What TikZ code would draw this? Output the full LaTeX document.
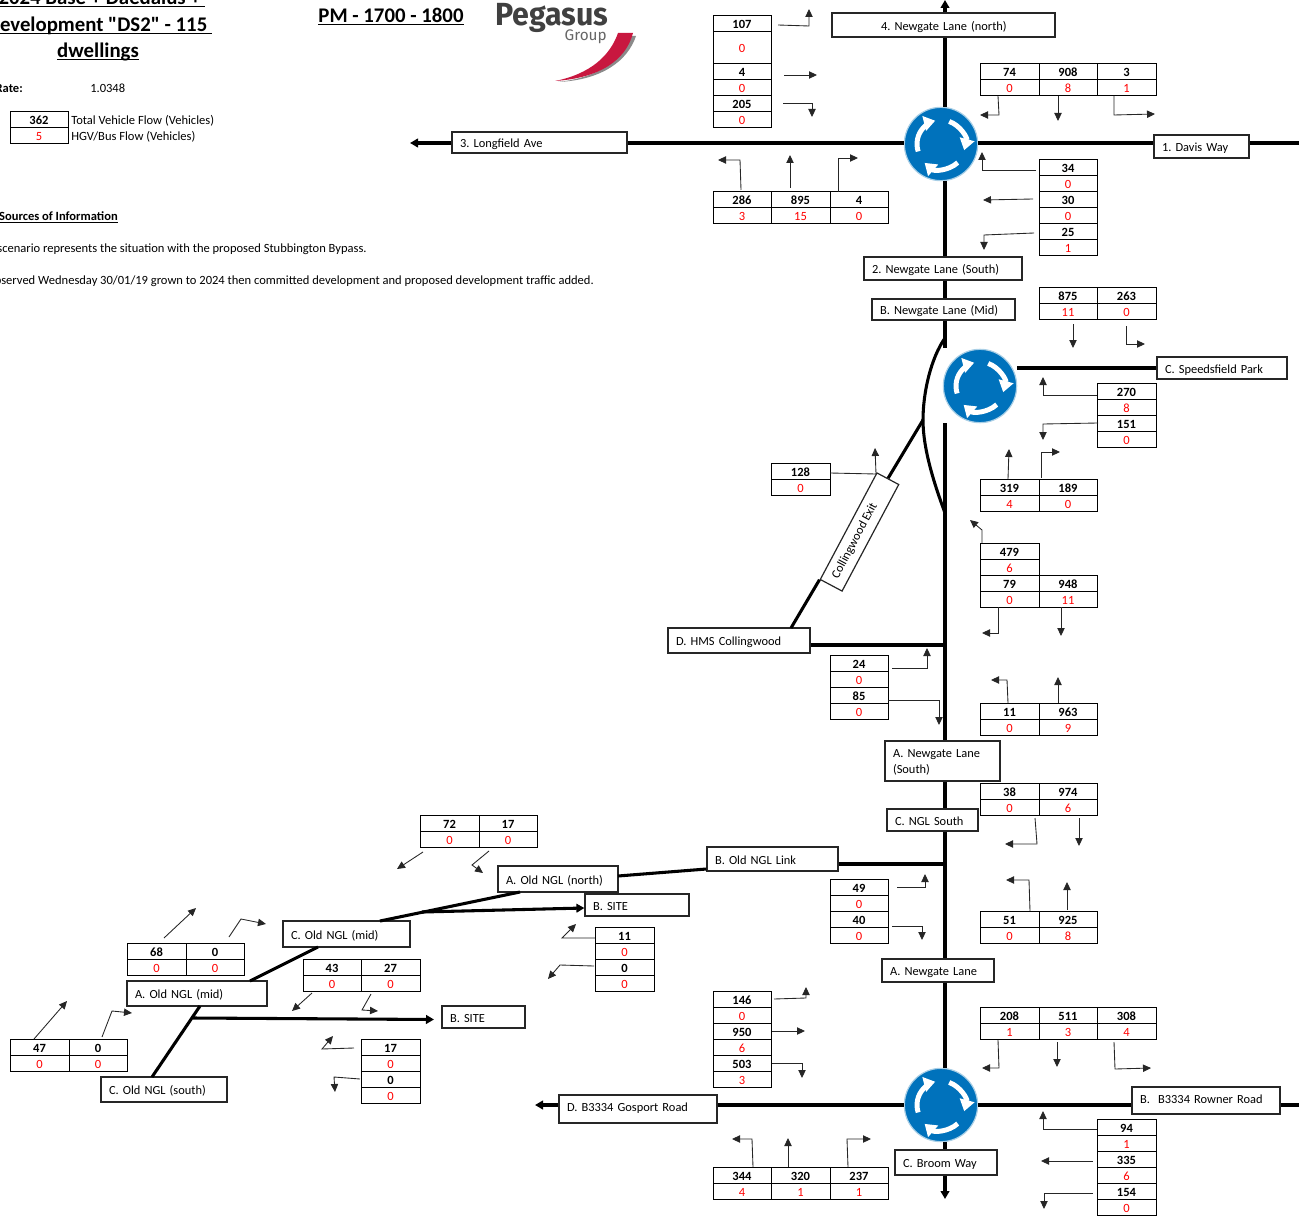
\documentclass[tikz,border=0pt]{standalone}
\usepackage{graphicx}
\usepackage{fontspec}
\setmainfont{Carlito}
\newfontfamily\rawcarlito{Carlito}
\newfontfamily\logofont{Fira Sans}
\usetikzlibrary{arrows.meta,calc}
\AtBeginDocument{\frenchspacing}
\definecolor{signblue}{HTML}{0072BC}
\definecolor{signrim}{HTML}{A9CFE6}
\definecolor{logored}{HTML}{C8173F}
\definecolor{logogrey}{HTML}{8A8A8A}
\definecolor{flowred}{HTML}{FF0000}
\newsavebox\tulbox
\newcommand\tul[1]{\sbox\tulbox{#1}\rlap{\rule[-1.9pt]{\wd\tulbox}{0.9pt}}\usebox\tulbox}
\tikzset{
  cellbox/.style={draw=black,line width=0.7pt,fill=white,inner sep=0pt,text height=8.2pt,text depth=0pt,font=\fontsize{9.4}{11}\selectfont},
  valcell/.style={cellbox,font=\fontsize{9.4}{11}\selectfont\bfseries},
  hgvcell/.style={cellbox,text=flowred},
  labbox/.style={draw=black!85,line width=0.9pt,fill=white,font=\fontsize{9.3}{12}\selectfont,inner ysep=0pt,anchor=center},
  road/.style={draw=black,line width=2.3pt},
  roadarr/.style={road,-{Triangle[length=6pt,width=6.5pt]}},
  flow/.style={draw=black!85,line width=0.65pt,-{Triangle[length=6pt,width=5.5pt]}},
  note/.style={inner sep=0pt,font=\fontsize{9.4}{11}\selectfont},
  noteb/.style={note,font=\fontsize{9.4}{11}\selectfont\bfseries},
  titletext/.style={inner sep=0pt,anchor=base,font=\fontsize{15.6}{18}\selectfont\bfseries},
  sign/.style={circle,fill=signblue,draw=signrim,line width=0.9pt,minimum size=55pt,inner sep=0pt},
  signarr/.style={draw=white,line width=3.7pt,-{Triangle[length=8.5pt,width=11pt]}}
}
% single cell
\newcommand\fcell[7]{%
  \pgfmathsetmacro\fcw{((#4)-(#2))*0.75}\pgfmathsetmacro\fch{((#5)-(#3))*0.75}%
  \node[#7,minimum width=\fcw pt,minimum height=\fch pt] (#1) at ({((#2)+(#4))/2},{((#3)+(#5))/2}) {#6};}
% value over hgv
\newcommand\vt[6]{%
  \fcell{#1v}{#2}{#4}{#3}{#4+16}{#5}{valcell}%
  \fcell{#1h}{#2}{#4+16}{#3}{#4+32}{#6}{hgvcell}}
% label box: [sep] name x1 y1 x2 y2 text
\newcommand\lab[7][8]{%
  \pgfmathsetmacro\fcw{(#5-#3)*0.75}\pgfmathsetmacro\fch{(#6-#4)*0.75}%
  \pgfmathsetmacro\ftw{(#5-#3-2*#1)*0.75}\pgfmathsetmacro\fsp{#1*0.75}%
  \node[labbox,inner xsep=\fsp pt,text width=\ftw pt,align=left,minimum width=\fcw pt,minimum height=\fch pt] (#2) at ({(#3+#5)/2},{(#4+#6)/2}) {\rule[-2.5pt]{0pt}{13pt}#7};}
\newcommand\flowa[3]{\coordinate (#1s) at #2; \coordinate (#1e) at #3; \draw[flow] (#1s) -- (#1e);}
\newcommand\flowb[4]{\coordinate (#1s) at #2; \coordinate (#1m) at #3; \coordinate (#1e) at #4; \draw[flow] (#1s) -- (#1m) -- (#1e);}
\newcommand\rabout[3]{%
  \node[sign] (#1) at (#2,#3) {};
  \begin{scope}[shift={(#2,#3)},x=0.75pt,y=0.75pt]
    \draw[signarr] (198:24) arc[start angle=198,end angle=104,radius=18pt];
    \draw[signarr] (70:24) arc[start angle=70,end angle=-15,radius=18pt];
    \draw[signarr] (-48:25) arc[start angle=-48,end angle=-131,radius=18.75pt];
  \end{scope}}
\begin{document}
\begin{tikzpicture}[x=0.75pt,y=-0.75pt]
\useasboundingbox (0,0) rectangle (1299,1216);
\clip (0,0) rectangle (1299,1216);
% titles
\node[titletext] (title1) at (102,4.3) {\tul{2024 Base + Daedalus +\ }};
\node[titletext] (title2) at (99.5,31.3) {\tul{Development {\rawcarlito "DS2"} - 115\ }};
\node[titletext] (title3) at (98,57.3) {\tul{dwellings}};
\node[titletext] (pm) at (391,22.5) {\tul{PM - 1700 - 1800}};
% logo
\node[inner sep=0pt,anchor=west,text=black!75,font=\logofont\fontsize{24}{26}\selectfont\bfseries] (lg1) at (495,18) {\scalebox{0.95}[1]{Pegasus}};
\node[inner sep=0pt,anchor=east,text=black!60,font=\logofont\fontsize{11.5}{13}\selectfont] (lg2) at (607,36.5) {Group};
\fill[logogrey] (558,82) .. controls (603,80) and (628,60) .. (636,36) -- (632,36) .. controls (622,62) and (595,78) .. (558,82) -- cycle;
\fill[logored] (555,81) .. controls (600,78) and (626,60) .. (633,33) -- (618,33) .. controls (610,56) and (590,74) .. (555,81) -- cycle;
% notes
\node[noteb,anchor=east] (rate) at (23,88.5) {Rate:};
\node[note,anchor=west] (ratev) at (90,88.5) {1.0348};
\vt{leg}{10}{68}{111}{362}{5}
\node[note,anchor=west] (legv) at (71,121) {Total Vehicle Flow (Vehicles)};
\node[note,anchor=west] (legh) at (71,137) {HGV/Bus Flow (Vehicles)};
\node[noteb,anchor=east] (src) at (118,217.5) {\underline{Sources of Information}};
\node[note,anchor=east] (s1) at (367,249.5) {This scenario represents the situation with the proposed Stubbington Bypass.};
\node[note,anchor=east] (s2) at (594,281.5) {Observed Wednesday 30/01/19 grown to 2024 then committed development and proposed development traffic added.};
% labels
\lab[49]{n4}{832}{13}{1055}{37}{\mbox{4. Newgate Lane (north)}}
\lab{n1}{1154}{135}{1249}{158}{1. Davis Way}
\lab{n3}{452}{132}{627}{153}{3. Longfield Ave}
\lab{n2}{864}{257}{1022}{280}{2. Newgate Lane (South)}
\lab{nbm}{872}{299}{1015}{320}{B. Newgate Lane (Mid)}
\lab{ncs}{1157}{357}{1287}{379}{C. Speedsfield Park}
\lab{nhms}{668}{628}{810}{653}{D. HMS Collingwood}
\lab{nas}{885}{741}{1000}{781}{A. Newgate Lane\\(South)\rule[-4pt]{0pt}{0pt}}
\lab{ncn}{887}{809}{978}{831}{C. NGL South}
\lab{nol}{707}{847}{838}{871}{B. Old NGL Link}
\lab{nan}{498}{866}{618}{892}{A. Old NGL (north)}
\lab{nsa}{585}{894}{689}{916}{B. SITE}
\lab{ncm}{283}{921}{410}{947}{C. Old NGL (mid)}
\lab{nam}{127}{981}{267}{1006}{A. Old NGL (mid)}
\lab{nsb}{442}{1006}{525}{1028}{B. SITE}
\lab{ncos}{101}{1077}{227}{1102}{C. Old NGL (south)}
\lab{nal}{882}{959}{994}{982}{A. Newgate Lane}
\lab{nd}{559}{1095}{717}{1123}{\raisebox{2.25pt}{D. B3334 Gosport Road}}
\lab{nb}{1132}{1087}{1280}{1114}{\raisebox{1.75pt}{B.\ \ B3334 Rowner Road}}
\lab{nc}{895}{1150}{997}{1175}{C. Broom Way}
\node[labbox,rotate=62,minimum width=90.5pt,minimum height=18.5pt,inner xsep=0pt] (coll) at (859.5,532) {Collingwood Exit\hspace{15pt}\mbox{}};
% roundabouts
\rabout{ra}{941}{144}
\rabout{rb}{980}{386}
\rabout{rc}{941}{1105}
% road coordinates
\coordinate (vx) at (945,0);
\coordinate (hxa) at (0,143);
\coordinate (hend) at (1299,143);
\coordinate (hzl) at (410,143);
\coordinate (bzr) at (1299,1105);
\coordinate (bzl) at (535,1105);
\coordinate (vb1) at (945,348);
\coordinate (vb2) at (945,423);
\coordinate (cur1) at (945,338);
\coordinate (cj) at (923,420);
\coordinate (cur2) at (945,513);
\coordinate (hj) at (791,628);
\coordinate (vend) at (945,1199);
\coordinate (hmsr) at (945,645);
\coordinate (ola) at (945,864);
\coordinate (olb) at (705,869);
\coordinate (olc) at (618,876);
\coordinate (old) at (520,892);
\coordinate (ole) at (380,921);
\coordinate (olj) at (422,912);
\coordinate (olm) at (585,908);
\coordinate (olf) at (318,947);
\coordinate (olg) at (250,981);
\coordinate (olh) at (200,1006);
\coordinate (oli) at (152,1077);
\coordinate (olk) at (193,1018);
\coordinate (olt) at (434,1019.5);
% main vertical
\draw[roadarr] (vx |- n4.north) -- (vx);
\draw[road] (vx |- n4.south) -- (vx |- ra.north);
\draw[road] (vx |- ra.south) -- (vx |- n2.north);
\draw[road] (vx |- n2.south) -- (vx |- nbm.north);
\draw[road] (vx |- nbm.south) -- (vb1);
\draw[road] (vb2) -- (vx |- nas.north);
\draw[road] (vx |- nas.south) -- (vx |- ncn.north);
\draw[road] (vx |- ncn.south) -- (vx |- nal.north);
\draw[road] (vx |- nal.south) -- (vx |- rc.north);
\draw[road] (vx |- rc.south) -- (vx |- nc.north);
\draw[roadarr] (vx |- nc.south) -- (vend);
% top horizontal
\draw[roadarr] (n3.west |- hxa) -- (hzl);
\draw[road] (n3.east |- hxa) -- (ra.west |- hxa);
\draw[road] (ra.east |- hxa) -- (n1.west |- hxa);
\draw[road] (n1.east |- hxa) -- (hend);
% middle roundabout
\draw[road] (rb.east |- ncs.west) -- (ncs.west);
\draw[road] (cur1) .. controls (931,358) and (923,392) .. (cj) .. controls (923,450) and (935,486) .. (cur2);
\draw[road] (cj) -- (coll.east);
\draw[road] (coll.north west) -- (hj);
% side roads
\draw[road] (nhms.east |- hmsr) -- (hmsr);
\draw[road] (nol.east |- ola) -- (ola);
% bottom horizontal
\draw[roadarr] (nd.west |- bzl) -- (bzl);
\draw[road] (nd.east |- bzl) -- (rc.west);
\draw[road] (rc.east) -- (nb.west |- bzr);
\draw[road] (nb.east |- bzr) -- (bzr);
% old NGL
\draw[road] (nol.west |- olb) -- (olc);
\draw[road] (old) -- (ole);
\draw[roadarr] (olj) -- (nsa.west |- olm);
\draw[road] (olf) -- (olg);
\draw[road] (olh) -- (oli);
\draw[roadarr] (olk) -- (olt);
% tables
\fcell{t107v}{713}{15}{771}{31}{107}{valcell}
\fcell{t107h}{713}{31}{771}{63}{0}{hgvcell}
\vt{t4}{713}{771}{63}{4}{0}
\vt{t205}{713}{771}{95}{205}{0}
\vt{t74}{980}{1039}{63}{74}{0}
\vt{t908}{1039}{1097}{63}{908}{8}
\vt{t3}{1097}{1156}{63}{3}{1}
\vt{t286}{713}{771}{191}{286}{3}
\vt{t895}{771}{830}{191}{895}{15}
\vt{t4b}{830}{888}{191}{4}{0}
\vt{t34}{1039}{1097}{159}{34}{0}
\vt{t30}{1039}{1097}{191}{30}{0}
\vt{t25}{1039}{1097}{223}{25}{1}
\vt{t875}{1039}{1097}{287}{875}{11}
\vt{t263}{1097}{1156}{287}{263}{0}
\vt{t270}{1097}{1156}{383}{270}{8}
\vt{t151}{1097}{1156}{415}{151}{0}
\vt{t319}{980}{1039}{479}{319}{4}
\vt{t189}{1039}{1097}{479}{189}{0}
\vt{t128}{771}{830}{463}{128}{0}
\vt{t479}{980}{1039}{543}{479}{6}
\vt{t79}{980}{1039}{575}{79}{0}
\vt{t948}{1039}{1097}{575}{948}{11}
\vt{t24}{830}{888}{655}{24}{0}
\vt{t85}{830}{888}{687}{85}{0}
\vt{t11}{980}{1039}{703}{11}{0}
\vt{t963}{1039}{1097}{703}{963}{9}
\vt{t38}{980}{1039}{783}{38}{0}
\vt{t974}{1039}{1097}{783}{974}{6}
\vt{t49}{830}{888}{879}{49}{0}
\vt{t40}{830}{888}{911}{40}{0}
\vt{t51}{980}{1039}{911}{51}{0}
\vt{t925}{1039}{1097}{911}{925}{8}
\vt{t72}{420}{479}{815}{72}{0}
\vt{t17}{479}{537}{815}{17}{0}
\vt{t11b}{595}{654}{927}{11}{0}
\vt{t0b}{595}{654}{959}{0}{0}
\vt{t68}{127}{186}{943}{68}{0}
\vt{t0c}{186}{244}{943}{0}{0}
\vt{t43}{303}{361}{959}{43}{0}
\vt{t27}{361}{420}{959}{27}{0}
\vt{t47}{10}{69}{1039}{47}{0}
\vt{t0d}{69}{127}{1039}{0}{0}
\vt{t17b}{361}{420}{1039}{17}{0}
\vt{t0e}{361}{420}{1071}{0}{0}
\vt{t146}{713}{771}{991}{146}{0}
\vt{t950}{713}{771}{1023}{950}{6}
\vt{t503}{713}{771}{1055}{503}{3}
\vt{t208}{980}{1039}{1007}{208}{1}
\vt{t511}{1039}{1097}{1007}{511}{3}
\vt{t308}{1097}{1156}{1007}{308}{4}
\vt{t344}{713}{771}{1167}{344}{4}
\vt{t320}{771}{830}{1167}{320}{1}
\vt{t237}{830}{888}{1167}{237}{1}
\vt{t94}{1097}{1156}{1119}{94}{1}
\vt{t335}{1097}{1156}{1151}{335}{6}
\vt{t154}{1097}{1156}{1183}{154}{0}
% flow arrows
\flowb{a107}{(778,25)}{(809,26)}{(809,9)}
\flowa{a4}{(784,75)}{(817,75)}
\flowb{a205}{(783,103)}{(812,103)}{(812,117)}
\flowb{a74}{(998,96)}{(999,115)}{(980,115)}
\flowa{a908}{(1058,96)}{(1058,121)}
\flowb{a3}{(1114,96)}{(1114,115)}{(1155,114)}
\flowb{a286}{(741,190)}{(740,160)}{(718,160)}
\flowa{a895}{(790,188)}{(790,155)}
\flowb{a4b}{(838,192)}{(838,158)}{(858,158)}
\flowb{a34}{(1036,170)}{(982,170)}{(982,152)}
\flowa{a30}{(1033,199)}{(983,200)}
\flowb{a25}{(1034,233)}{(984,235)}{(984,250)}
\flowa{a875}{(1073,324)}{(1073,348)}
\flowb{a263}{(1126,326)}{(1126,344)}{(1145,344)}
\flowb{a270}{(1097,395)}{(1043,395)}{(1043,377)}
\flowb{a151}{(1098,423)}{(1043,424)}{(1043,440)}
\flowa{a319}{(1008,479)}{(1009,449)}
\flowb{a189}{(1041,478)}{(1041,452)}{(1060,452)}
\flowb{a128}{(830,473)}{(876,474)}{(875,448)}
\flowb{a479}{(982,543)}{(982,530)}{(970,520)}
\flowb{a79}{(998,607)}{(998,633)}{(982,633)}
\flowa{a948}{(1061,607)}{(1061,636)}
\flowb{a24}{(892,668)}{(927,668)}{(927,648)}
\flowb{a85}{(888,700)}{(939,700)}{(939,725)}
\flowb{a11}{(1008,703)}{(1007,680)}{(991,680)}
\flowa{a963}{(1058,703)}{(1058,677)}
\flowb{a38}{(1035,818)}{(1037,844)}{(1005,844)}
\flowa{a974}{(1079,818)}{(1079,846)}
\flowb{a49}{(897,887)}{(925,887)}{(925,874)}
\flowb{a40}{(892,926)}{(922,926)}{(922,940)}
\flowb{a51}{(1030,911)}{(1029,880)}{(1006,880)}
\flowa{a925}{(1067,910)}{(1067,882)}
\flowa{a72}{(423,852)}{(397,869)}
\flowb{a17}{(489,851)}{(472,865)}{(483,873)}
\flowa{a68}{(164,938)}{(196,908)}
\flowb{a0c}{(229,937)}{(241,919)}{(266,924)}
\flowa{a43}{(312,993)}{(292,1011)}
\flowb{a27}{(371,994)}{(362,1010)}{(378,1011)}
\flowa{a47}{(34,1039)}{(67,1001)}
\flowb{a0d}{(102,1037)}{(112,1011)}{(132,1013)}
\flowb{a11b}{(595,938)}{(562,938)}{(576,924)}
\flowb{a0b}{(594,966)}{(560,965)}{(548,979)}
\flowb{a17b}{(354,1048)}{(322,1049)}{(333,1036)}
\flowb{a0e}{(360,1079)}{(334,1077)}{(335,1092)}
\flowb{a146}{(774,999)}{(806,998)}{(806,987)}
\flowa{a950}{(772,1031)}{(805,1031)}
\flowb{a503}{(772,1063)}{(802,1063)}{(802,1078)}
\flowb{a208}{(998,1040)}{(999,1068)}{(982,1068)}
\flowa{a511}{(1057,1042)}{(1057,1067)}
\flowb{a308}{(1114,1042)}{(1115,1069)}{(1151,1068)}
\flowb{a344}{(753,1167)}{(752,1139)}{(732,1139)}
\flowa{a320}{(788,1167)}{(788,1138)}
\flowb{a237}{(848,1167)}{(847,1139)}{(871,1139)}
\flowb{a94}{(1097,1129)}{(1043,1129)}{(1043,1111)}
\flowa{a335}{(1093,1161)}{(1041,1161)}
\flowb{a154}{(1093,1193)}{(1044,1193)}{(1044,1209)}
\end{tikzpicture}
\end{document}
